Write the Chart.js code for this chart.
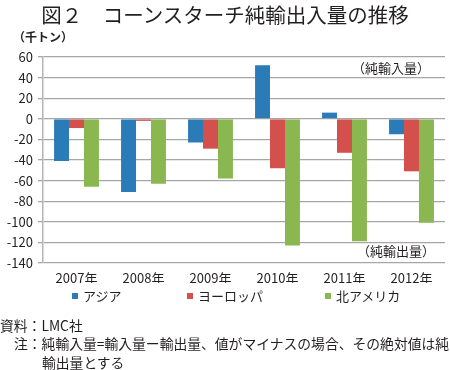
<!DOCTYPE html>
<html>
<head>
<meta charset="utf-8">
<script src="https://cdn.jsdelivr.net/npm/chart.js@4/dist/chart.umd.min.js"></script>
<style>
  html, body { margin: 0; padding: 0; background: #fff; }
  body { width: 450px; height: 370px; position: relative; overflow: hidden;
         font-family: "Noto Sans CJK JP", "Noto Sans", sans-serif; color: #231f20; }
  #wrap { position: absolute; left: 0; top: 0; width: 450px; height: 370px; }
  .t { position: absolute; white-space: nowrap; line-height: 1; }
  #title { left: 0; width: 450px; text-align: center; top: 4px; font-size: 20.5px; }
  #unit { left: 13px; top: 31px; font-size: 12px; font-weight: bold; }
  #ann1 { left: 352px; top: 61px; font-size: 13px; }
  #ann2 { left: 357px; top: 244px; font-size: 13px; }
  #legend { position: absolute; top: 288px; left: 0; width: 450px; height: 16px; }
  .li { position: absolute; top: 0; font-size: 13px; line-height: 16px; white-space: nowrap; }
  .sw { display: inline-block; width: 6px; height: 6px; margin-right: 5px; vertical-align: 2px; }
  .fn { position: absolute; font-size: 13.8px; line-height: 1; white-space: nowrap; }
</style>
</head>
<body>
<div id="wrap"><canvas id="c" width="450" height="370"></canvas></div>
<div class="t" id="title">図２　コーンスターチ純輸出入量の推移</div>
<div class="t" id="unit">（千トン）</div>
<div class="t" id="ann1">（純輸入量）</div>
<div class="t" id="ann2">（純輸出量）</div>
<div id="legend"></div>
<div class="fn" style="left:0px; top:319px;">資料：LMC社</div>
<div class="fn" style="left:14px; top:337px;">注：純輸入量=輸入量ー輸出量、値がマイナスの場合、その絶対値は純</div>
<div class="fn" style="left:42px; top:356px;">輸出量とする</div>
<script>
const categories = ["2007年", "2008年", "2009年", "2010年", "2011年", "2012年"];
const seriesNames = ["アジア", "ヨーロッパ", "北アメリカ"];
const asia = [-41, -71, -23, 52, 6, -15];
const europe = [-9, -2, -29, -48, -33, -51];
const northAmerica = [-66, -63, -58, -123, -119, -101];
const seriesColors = ["#2b7bb9", "#d3504c", "#8bb751"];
const yTicks = [60, 40, 20, 0, -20, -40, -60, -80, -100, -120, -140];

Chart.defaults.font.family = '"Noto Sans CJK JP", "Noto Sans", sans-serif';
Chart.defaults.color = '#231f20';

const values = [asia, europe, northAmerica];
const datasets = seriesNames.map((n, i) => ({
  label: n,
  data: values[i],
  backgroundColor: seriesColors[i],
  borderWidth: 0,
  categoryPercentage: 0.67,
  barPercentage: 1.0
}));

const chart = new Chart(document.getElementById('c'), {
  type: 'bar',
  data: { labels: categories, datasets: datasets },
  options: {
    responsive: false,
    animation: false,
    layout: { padding: { top: 57, left: 0, right: 5, bottom: 87 } },
    plugins: { legend: { display: false }, tooltip: { enabled: false }, title: { display: false } },
    scales: {
      x: {
        grid: { display: false, drawTicks: false },
        border: { display: false },
        ticks: { font: { size: 13 }, padding: 7, color: '#231f20', maxRotation: 0 },
        afterFit: s => { s.height = 20; }
      },
      y: {
        min: yTicks[yTicks.length - 1],
        max: yTicks[0],
        afterBuildTicks: s => { s.ticks = yTicks.map(v => ({ value: v })); },
        grid: { color: '#a6a6a6', lineWidth: 1.3, tickLength: 5, drawTicks: true },
        border: { display: true, color: '#b4b4b4', width: 1.5 },
        ticks: { font: { size: 13 }, padding: 5, color: '#231f20' },
        afterFit: s => { s.width = 43; }
      }
    }
  }
});

// legend built from chart datasets
const legendPos = [72, 187, 325];
const lg = document.getElementById('legend');
chart.data.datasets.forEach((d, i) => {
  const el = document.createElement('div');
  el.className = 'li';
  el.style.left = legendPos[i] + 'px';
  el.innerHTML = '<span class="sw" style="background:' + d.backgroundColor + '"></span>' + d.label;
  lg.appendChild(el);
});
</script>
</body>
</html>
